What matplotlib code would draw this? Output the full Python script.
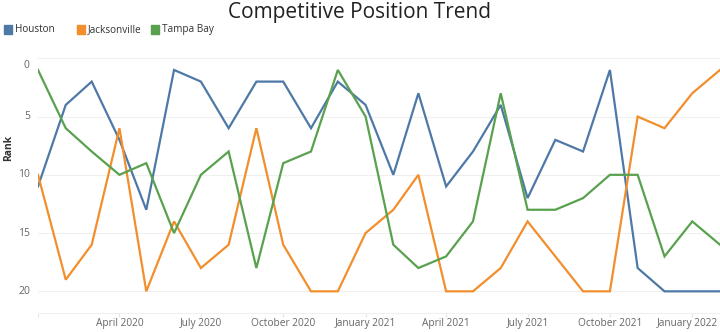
import numpy as np
import pandas as pd
import matplotlib
matplotlib.use("Agg")
import matplotlib.pyplot as plt
import matplotlib.dates as mdates
from matplotlib.patches import Rectangle

plt.rcParams['font.family'] = ['Open Sans', 'DejaVu Sans']

months = pd.date_range("2020-01-01", "2022-02-01", freq="MS")

houston = [11, 4, 2, 7, 13, 1, 2, 6, 2, 2, 6, 2, 4, 10, 3, 11,
           8, 4, 12, 7, 8, 1, 18, 20, 20, 20]
jacksonville = [10, 19, 16, 6, 20, 14, 18, 16, 6, 16, 20, 20, 15, 13, 10, 20,
                20, 18, 14, 17, 20, 20, 5, 6, 3, 1]
tampa_bay = [1, 6, 8, 10, 9, 15, 10, 8, 18, 9, 8, 1, 5, 16, 18, 17,
             14, 3, 13, 13, 12, 10, 10, 17, 14, 16]

teams = ["Houston", "Jacksonville", "Tampa Bay"]
colors = ["#4e79a7", "#f28e2b", "#59a14f"]
rank_ticks = [0, 5, 10, 15, 20]
tick_dates = pd.date_range("2020-01-01", "2022-01-01", freq="QS")

fig = plt.figure(figsize=(7.2, 3.32), dpi=100)
ax = fig.add_axes([38 / 720, 1 - 313 / 332, 1 - 38 / 720, (313 - 58.3) / 332])

for vals, c in zip([houston, jacksonville, tampa_bay], colors):
    ax.plot(months, vals, color=c, lw=1.6, solid_joinstyle="miter")

ax.set_xlim(months[0], months[-1])
ax.set_ylim(21.86, 0)

ax.set_yticks(rank_ticks)
ax.set_yticklabels([])
ax.tick_params(axis="y", length=0)
ax.grid(axis="y", color="#efefef", lw=0.8)
ax.set_axisbelow(True)

# rank labels; the top one sits a little below its gridline
for r in rank_ticks:
    ypos = r + 0.65 if r == 0 else r
    ax.text(-0.012, ypos, str(r), transform=ax.get_yaxis_transform(),
            ha="right", va="center", fontsize=7.5, color="#666666")

# quarter ticks, month names written underneath
ax.set_xticks(tick_dates)
ax.set_xticklabels([])
ax.tick_params(axis="x", length=3, color="#e6e6e6")
for d in tick_dates[1:-1]:
    ax.text(mdates.date2num(d), -0.042, d.strftime("%B %Y"),
            transform=ax.get_xaxis_transform(), ha="center", va="center",
            fontsize=7.3, color="#666666")
# last label is pushed in so it stays inside the figure
ax.text(0.997, -0.042, tick_dates[-1].strftime("%B %Y"),
        transform=ax.transAxes, ha="right", va="center",
        fontsize=7.3, color="#666666")

for s in ["top", "right", "left"]:
    ax.spines[s].set_visible(False)
ax.spines["bottom"].set_color("#f0f0f0")

fig.text(0.012, 0.555, "Rank", rotation=90, ha="center", va="center",
         fontsize=7.5, color="#333333", fontweight="bold")

fig.text(0.5, 0.962, "Competitive Position Trend", ha="center", va="center",
         fontsize=15, color="#222222")

# legend row
legend_x = [4, 77, 151]
for x0, name, c in zip(legend_x, teams, colors):
    fig.patches.append(Rectangle((x0 / 720, 1 - 34 / 332), 8 / 720, 9 / 332,
                                 color=c, transform=fig.transFigure))
    fig.text((x0 + 11) / 720, 1 - 29.5 / 332, name, ha="left", va="center",
             fontsize=7.2, color="#333333")

fig.savefig("out.png", dpi=100)
